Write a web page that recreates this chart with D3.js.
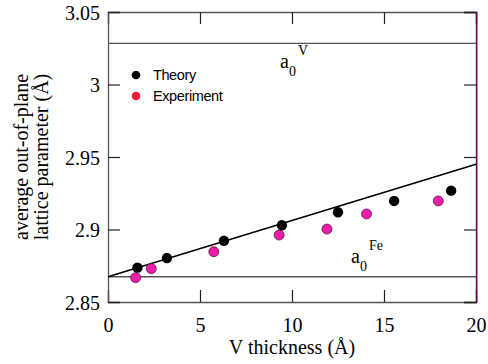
<!DOCTYPE html>
<html>
<head>
<meta charset="utf-8">
<script src="https://cdn.jsdelivr.net/npm/d3@7"></script>
<style>
  body { margin: 0; background: #fff; }
  svg { display: block; }
</style>
</head>
<body>
<div id="chart"></div>
<script>
// values
var theoryX = [1.6, 3.2, 6.3, 9.45, 12.5, 15.55, 18.65];
var theoryY = [2.8737, 2.8803, 2.8922, 2.9029, 2.9119, 2.9197, 2.9268];
var exptX = [1.5, 2.35, 5.75, 9.3, 11.9, 14.05, 17.95];
var exptY = [2.8668, 2.8730, 2.8847, 2.8962, 2.9003, 2.9107, 2.9197];
var fitX = [0, 20];
var fitY = [2.8674, 2.945];
var a0V = 3.0284, a0Fe = 2.8674;
var xTicks = [0, 5, 10, 15, 20];
var yTicks = [2.85, 2.9, 2.95, 3, 3.05];

var W = 488, H = 364;
var m = {left: 108, right: 12, top: 12, bottom: 62};
var pw = W - m.left - m.right, ph = H - m.top - m.bottom;

var svg = d3.select("#chart").append("svg")
    .attr("width", W)
    .attr("height", H);

var x = d3.scaleLinear().domain([0, 20]).range([0, pw]);
var y = d3.scaleLinear().domain([2.85, 3.05]).range([ph, 0]);

var g = svg.append("g").attr("transform", "translate(" + m.left + "," + m.top + ")");

var fmtY = function (d) { return d3.format("")(+d.toFixed(2)); };

// axes, ticks pointing inwards
var axB = g.append("g").attr("transform", "translate(0," + ph + ")")
    .call(d3.axisBottom(x).tickValues(xTicks).tickSize(-12).tickPadding(16).tickFormat(d3.format("d")));
var axT = g.append("g")
    .call(d3.axisTop(x).tickValues(xTicks).tickSize(-12).tickFormat(""));
var axL = g.append("g")
    .call(d3.axisLeft(y).tickValues(yTicks).tickSize(-12).tickPadding(8).tickFormat(fmtY));
var axR = g.append("g").attr("transform", "translate(" + pw + ",0)")
    .call(d3.axisRight(y).tickValues(yTicks).tickSize(-12).tickFormat(""));

[axB, axT, axL, axR].forEach(function (a) {
    a.select(".domain").attr("stroke", "#555").attr("stroke-width", 1.3);
    a.selectAll(".tick line").attr("stroke", "#222").attr("stroke-width", 1.2);
    a.selectAll("text").attr("font-family", "Liberation Serif, Times New Roman, serif")
        .attr("font-size", 20).attr("fill", "#000");
});
axR.select(".domain").attr("stroke", "#000");
g.append("line").attr("x1", pw + 1).attr("x2", pw + 1).attr("y1", 0).attr("y2", ph)
    .attr("stroke", "#c0208a").attr("stroke-width", 1);
axL.selectAll("text").attr("dy", "0.36em");

// reference lattice constants
[a0V, a0Fe].forEach(function (v) {
    g.append("line").attr("x1", 0).attr("x2", pw)
        .attr("y1", y(v)).attr("y2", y(v))
        .attr("stroke", "#555").attr("stroke-width", 1.3);
});

// linear fit
g.append("line")
    .attr("x1", x(fitX[0])).attr("y1", y(fitY[0]))
    .attr("x2", x(fitX[1])).attr("y2", y(fitY[1]))
    .attr("stroke", "#000").attr("stroke-width", 1.6);

// points
g.selectAll(".expt").data(d3.range(exptX.length)).enter()
    .append("circle").attr("class", "expt")
    .attr("cx", function (i) { return x(exptX[i]); })
    .attr("cy", function (i) { return y(exptY[i]); })
    .attr("r", 5)
    .attr("fill", "#ea1fa6").attr("stroke", "#6a1050").attr("stroke-width", 0.8);

g.selectAll(".theory").data(d3.range(theoryX.length)).enter()
    .append("circle").attr("class", "theory")
    .attr("cx", function (i) { return x(theoryX[i]); })
    .attr("cy", function (i) { return y(theoryY[i]); })
    .attr("r", 5.2)
    .attr("fill", "#000");

// a0 labels
function a0Label(px, py, sup) {
    var t = svg.append("text").attr("x", px).attr("y", py)
        .attr("font-family", "Liberation Serif, Times New Roman, serif").attr("font-size", 20);
    t.append("tspan").text("a");
    t.append("tspan").attr("font-size", 14).attr("dy", 8).text("0");
    t.append("tspan").attr("font-size", 14).attr("dy", -21).attr("dx", 2).text(sup);
}
a0Label(280, 68, "V");
a0Label(351, 263, "Fe");

// legend
var legend = [["Theory", "#000"], ["Experiment", "#f41c34"]];
legend.forEach(function (d, i) {
    svg.append("circle").attr("cx", 136).attr("cy", 75 + i * 21).attr("r", 4.3).attr("fill", d[1]);
    svg.append("text").attr("x", 153).attr("y", 80 + i * 21)
        .attr("font-family", "Liberation Sans, Arial, sans-serif").attr("font-size", 14.5)
        .attr("letter-spacing", -0.4)
        .text(d[0]);
});

// axis titles
svg.append("text")
    .attr("x", m.left + pw / 2).attr("y", 354)
    .attr("text-anchor", "middle")
    .attr("font-family", "Liberation Serif, Times New Roman, serif").attr("font-size", 20)
    .text("V thickness (Å)");

var yt = svg.append("text")
    .attr("transform", "translate(28," + (m.top + ph / 2) + ") rotate(-90)")
    .attr("text-anchor", "middle")
    .attr("font-family", "Liberation Serif, Times New Roman, serif").attr("font-size", 20);
yt.append("tspan").attr("x", 0).attr("dy", 0).text("average out-of-plane");
yt.append("tspan").attr("x", 0).attr("dy", 20).text("lattice parameter (Å)");
</script>
</body>
</html>
